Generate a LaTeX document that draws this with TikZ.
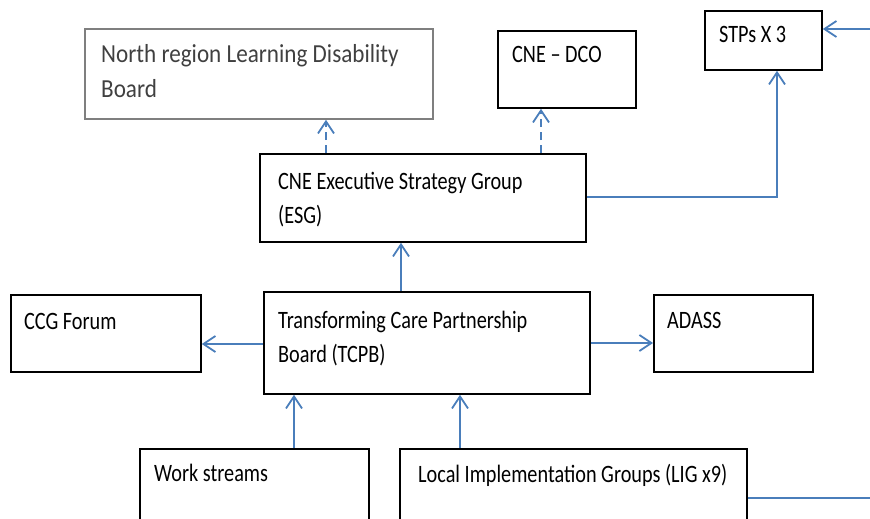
\documentclass[tikz,border=0pt]{standalone}
\usepackage{fontspec}
\setmainfont{Carlito}[FakeStretch=0.81]
\newfontfamily\widefont{Carlito}[FakeStretch=0.89]
\usetikzlibrary{arrows.meta}

\definecolor{linkblue}{HTML}{4A7EBB}
\definecolor{boxgray}{HTML}{7F7F7F}
\definecolor{txtgray}{HTML}{404040}

\tikzset{
  box/.style={draw=black, line width=1.8pt, inner sep=0pt, anchor=north west},
  txt/.style={font=\fontsize{25}{34}\selectfont, align=left, inner sep=0pt, anchor=base west},
  link/.style={draw=linkblue, line width=1.8pt, -{Straight Barb[length=12pt,width=16pt,line width=1.8pt]}},
  dashlink/.style={link, dash pattern=on 8pt off 5pt},
}

\begin{document}
\begin{tikzpicture}[x=1pt, y=-1pt]
  \useasboundingbox (0,0) rectangle (870,519);
  \clip (0,0) rectangle (870,519);

  % boxes
  \node[box, draw=boxgray, minimum width=348pt, minimum height=90pt] (nrb) at (84,28) {};
  \node[box, minimum width=138pt, minimum height=77pt] (dco) at (497,30) {};
  \node[box, minimum width=117pt, minimum height=59pt] (stp) at (704,10) {};
  \node[box, minimum width=326pt, minimum height=88pt] (esg) at (259,153) {};
  \node[box, minimum width=190pt, minimum height=77pt] (ccg) at (10,294) {};
  \node[box, minimum width=326pt, minimum height=102pt] (tcpb) at (263,291) {};
  \node[box, minimum width=159pt, minimum height=77pt] (adass) at (653,294) {};
  \node[box, minimum width=229pt, minimum height=90pt] (work) at (139,448) {};
  \node[box, minimum width=347pt, minimum height=90pt] (lig) at (399,448) {};

  % texts (two-line nodes sit on their last baseline)
  \node[txt, text=txtgray, font=\widefont\fontsize{26}{35}\selectfont] (nrbtext) at (101,97) {North region Learning Disability\\Board};
  \node[txt] (dcotext) at (512,63) {CNE -- DCO};
  \node[txt] (stptext) at (719,43) {STPs X 3};
  \node[txt] (esgtext) at (278,223) {CNE Executive Strategy Group\\(ESG)};
  \node[txt] (ccgtext) at (24,329) {CCG Forum};
  \node[txt] (tcpbtext) at (278,362) {Transforming Care Partnership\\Board (TCPB)};
  \node[txt] (adasstext) at (667,328) {ADASS};
  \node[txt] (worktext) at (154,481) {Work streams};
  \node[txt] (ligtext) at (418,482) {Local Implementation Groups (LIG x9)};

  % free ends
  \coordinate (stpin) at (870,29);
  \coordinate (ligout) at (870,498);

  % connectors
  \draw[dashlink] (esg.north -| 326,0) -- (nrb.south -| 326,0);
  \draw[dashlink] (esg.north -| 541,0) -- (dco.south -| 541,0);
  \draw[link] (esg.east |- 0,197) -| (stp.south -| 777,0);
  \draw[link] (stpin) -- (stp.east |- stpin);
  \draw[link] (tcpb.north -| 401,0) -- (esg.south -| 401,0);
  \draw[link] (tcpb.west |- 0,344) -- (ccg.east |- 0,344);
  \draw[link] (tcpb.east |- 0,343) -- (adass.west |- 0,343);
  \draw[link] (work.north -| 294,0) -- (tcpb.south -| 294,0);
  \draw[link] (lig.north -| 460,0) -- (tcpb.south -| 460,0);
  \draw[draw=linkblue, line width=1.8pt] (lig.east |- ligout) -- (ligout);
\end{tikzpicture}
\end{document}
